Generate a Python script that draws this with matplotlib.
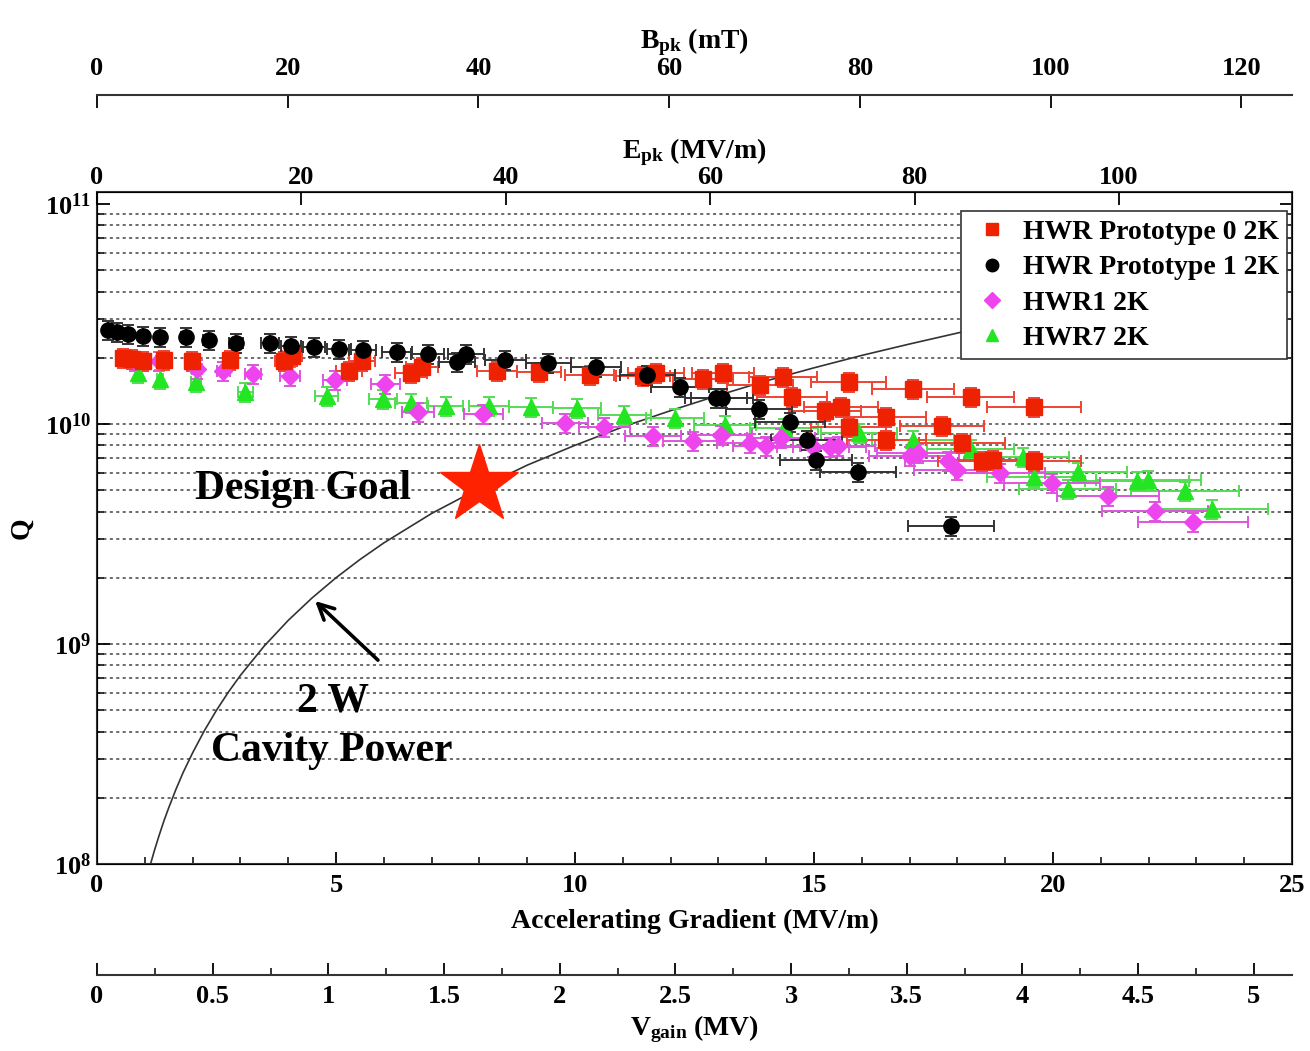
import numpy as np
import matplotlib.pyplot as plt
from matplotlib.lines import Line2D
from matplotlib.ticker import MultipleLocator, LogLocator, NullFormatter

plt.rcParams['font.family'] = ['Liberation Serif', 'DejaVu Serif']
plt.rcParams['font.weight'] = 'bold'
plt.rcParams['axes.labelweight'] = 'bold'
plt.rcParams['mathtext.fontset'] = 'custom'
plt.rcParams['mathtext.rm'] = 'Liberation Serif:bold'
plt.rcParams['mathtext.it'] = 'Liberation Serif:bold'
plt.rcParams['mathtext.bf'] = 'Liberation Serif:bold'

# --- datos (Eacc en MV/m, Q) ---
e_proto0 = [0.54, 0.73, 0.96, 1.40, 1.99, 2.78, 3.91, 4.08, 5.27, 5.54, 6.57, 6.80,
            8.37, 9.25, 10.31, 11.42, 11.69, 12.68, 13.10, 13.87, 14.35, 14.54, 15.23,
            15.56, 15.73, 15.73, 16.51, 16.51, 17.07, 17.68, 18.10, 18.28, 18.51, 18.74,
            19.60, 19.60]
q_proto0 = [2.00e10, 1.97e10, 1.93e10, 1.95e10, 1.93e10, 1.95e10, 1.93e10, 2.04e10,
            1.74e10, 1.93e10, 1.71e10, 1.82e10, 1.74e10, 1.72e10, 1.67e10, 1.65e10,
            1.71e10, 1.60e10, 1.71e10, 1.50e10, 1.64e10, 1.33e10, 1.15e10, 1.19e10,
            9.69e9, 1.55e10, 1.08e10, 8.46e9, 1.44e10, 9.79e9, 8.2e9, 1.33e10, 6.79e9,
            6.86e9, 1.19e10, 6.79e9]

e_proto1 = [0.23, 0.42, 0.65, 0.96, 1.32, 1.86, 2.34, 2.91, 3.62, 4.06, 4.54, 5.06,
            5.56, 6.28, 6.92, 7.53, 7.72, 8.54, 9.44, 10.44, 11.51, 12.20, 12.95, 13.08,
            13.85, 14.50, 14.85, 15.04, 15.92, 17.87]
q_proto1 = [2.67e10, 2.62e10, 2.57e10, 2.51e10, 2.48e10, 2.48e10, 2.41e10, 2.33e10,
            2.33e10, 2.26e10, 2.24e10, 2.19e10, 2.17e10, 2.12e10, 2.08e10, 1.91e10,
            2.08e10, 1.95e10, 1.89e10, 1.82e10, 1.67e10, 1.47e10, 1.31e10, 1.31e10,
            1.17e10, 1.02e10, 8.46e9, 6.86e9, 6.05e9, 3.44e9]

e_hwr1 = [0.79, 1.30, 2.09, 2.64, 3.26, 4.04, 4.98, 6.03, 6.72, 8.08, 9.79, 10.61,
          11.63, 12.47, 13.05, 13.66, 14.00, 14.31, 14.98, 15.33, 15.50, 17.01, 17.18,
          17.80, 17.99, 18.89, 19.98, 21.15, 22.13, 22.93]
q_hwr1 = [1.93e10, 1.93e10, 1.78e10, 1.74e10, 1.69e10, 1.65e10, 1.58e10, 1.52e10,
          1.13e10, 1.11e10, 1.01e10, 9.69e9, 8.82e9, 8.37e9, 8.91e9, 8.2e9, 7.94e9,
          8.64e9, 7.86e9, 7.86e9, 7.94e9, 7.16e9, 7.38e9, 6.79e9, 6.18e9, 5.99e9,
          5.39e9, 4.71e9, 4.02e9, 3.59e9]

e_hwr7 = [0.86, 1.32, 2.07, 3.10, 4.81, 5.98, 6.57, 7.30, 8.20, 9.08, 10.04, 11.03,
          12.09, 13.14, 14.37, 15.94, 17.07, 18.28, 19.37, 19.60, 20.31, 20.52, 21.76,
          21.99, 22.76, 23.33]
q_hwr7 = [1.71e10, 1.60e10, 1.55e10, 1.40e10, 1.34e10, 1.30e10, 1.25e10, 1.21e10,
          1.21e10, 1.19e10, 1.18e10, 1.10e10, 1.06e10, 9.9e9, 9.59e9, 9.1e9, 8.46e9,
          7.69e9, 7.08e9, 5.74e9, 5.07e9, 6.05e9, 5.51e9, 5.56e9, 4.96e9, 4.11e9]

# incertidumbre relativa aproximada (leida de las barras)
xerr_rel = 0.05
yerr_rel = 0.10

# curva de 2 W de potencia en la cavidad
e_2w = [1.12, 1.2, 1.3, 1.4, 1.5, 1.65, 1.8, 2.0, 2.25, 2.5, 2.75, 3.0, 3.5, 4.0, 4.5,
        5.0, 5.5, 6.0, 7.0, 8.0, 9.0, 10.0, 11.0, 12.0, 13.0, 14.0, 15.0, 16.0, 17.0,
        18.2, 20.0]
q_2w = [1.0e8, 1.15e8, 1.35e8, 1.57e8, 1.8e8, 2.18e8, 2.6e8, 3.2e8, 4.05e8, 5.0e8,
        6.05e8, 7.2e8, 9.8e8, 1.28e9, 1.62e9, 2.0e9, 2.42e9, 2.88e9, 3.92e9, 5.1e9,
        6.5e9, 8.0e9, 9.7e9, 1.15e10, 1.35e10, 1.57e10, 1.8e10, 2.05e10, 2.31e10,
        2.65e10, 3.2e10]

design_goal_e = 8.0
design_goal_q = 5.3e9

# ejes secundarios: factores de conversion desde Eacc
epk_por_eacc = 4.677
bpk_por_eacc = 5.013
vgain_por_eacc = 0.2066
eacc_max = 25

series = [
    ('HWR7 2K', e_hwr7, q_hwr7, '^', '#22e622', '#55dd55'),
    ('HWR1 2K', e_hwr1, q_hwr1, 'D', '#ee44ee', '#dd55dd'),
    ('HWR Prototype 0 2K', e_proto0, q_proto0, 's', '#ee2200', '#ee4433'),
    ('HWR Prototype 1 2K', e_proto1, q_proto1, 'o', 'black', '#333333'),
]
legend_order = ['HWR Prototype 0 2K', 'HWR Prototype 1 2K', 'HWR1 2K', 'HWR7 2K']

W, H = 1310, 1051
fig = plt.figure(figsize=(W / 100, H / 100), dpi=100)
ax = fig.add_axes([97 / W, 1 - 864 / H, 1195 / W, 672 / H])

ax.set_yscale('log')
ax.set_xlim(0, eacc_max)
ax.set_ylim(1e8, 10 ** 11.0545)

# grid punteado en cada decada
for dec in [1e8, 1e9, 1e10]:
    for m in range(1, 10):
        if dec * m > 1e8:
            ax.axhline(dec * m, color='#444444', lw=1.1, ls=(0, (2, 2.2)), zorder=0)

ax.plot(e_2w, q_2w, color='#333333', lw=1.2, zorder=2)

handles = {}
for nombre, e, q, mk, col, ecol in series:
    e = np.array(e)
    q = np.array(q)
    ax.errorbar(e, q, xerr=e * xerr_rel, yerr=q * yerr_rel, fmt=mk, ms=11 if mk != 'D' else 9,
                color=col, mec=col, ecolor=ecol, elinewidth=1.4, capsize=4, capthick=1.4,
                zorder=3)
    handles[nombre] = Line2D([], [], ls='none', marker=mk, color=col, ms=9 if mk != 'D' else 8)

ax.plot(design_goal_e, design_goal_q, marker='*', ms=59, color='#ff2200', mec='#ff2200',
        zorder=5, ls='none')

ax.text(4.31, 5.07e9, 'Design Goal', fontsize=30, ha='center', va='center', zorder=6)
ax.text(4.94, 5.5e8, '2 W', fontsize=30, ha='center', va='center')
ax.text(4.92, 3.27e8, 'Cavity Power', fontsize=30, ha='center', va='center')
ax.annotate('', xy=(4.52, 1.6e9), xytext=(5.92, 8.28e8),
            arrowprops=dict(arrowstyle='->', lw=2.6, color='black', mutation_scale=28))

leg = ax.legend([handles[n] for n in legend_order], legend_order, loc='upper right',
                bbox_to_anchor=(0.9958, 0.9717), borderaxespad=0, fontsize=20,
                frameon=True, fancybox=False, edgecolor='#333333', framealpha=1,
                handletextpad=0.3, labelspacing=0.36, borderpad=0.3, handlelength=1.6)
leg.get_frame().set_linewidth(1.2)
leg.set_zorder(10)

# ticks eje principal
ax.xaxis.set_major_locator(MultipleLocator(5))
ax.xaxis.set_minor_locator(MultipleLocator(1))
ax.set_yticks([1e8, 1e9, 1e10, 1e11])
ax.set_yticklabels([r'$10^{8}$', r'$10^{9}$', r'$10^{10}$', r'$10^{11}$'])
ax.yaxis.set_minor_locator(LogLocator(base=10, subs=np.arange(2, 10)))
ax.yaxis.set_minor_formatter(NullFormatter())
ax.tick_params(axis='both', which='major', direction='in', length=9, width=1.3,
               labelsize=19, right=True, top=False)
ax.tick_params(axis='both', which='minor', direction='in', length=5, width=1.1,
               right=True, top=False)
ax.tick_params(axis='x', pad=7)
ax.tick_params(axis='y', pad=4)
ax.set_xlabel('Accelerating Gradient (MV/m)', fontsize=20, labelpad=9)
ax.set_ylabel('Q', fontsize=20, labelpad=8)
for s in ax.spines.values():
    s.set_linewidth(1.5)
    s.set_color('#333333')

# eje superior Epk
ax_e = ax.twiny()
ax_e.set_xlim(0, eacc_max * epk_por_eacc)
ax_e.xaxis.set_major_locator(MultipleLocator(20))
ax_e.tick_params(axis='x', direction='in', length=9, width=1.3, labelsize=19, pad=2)
ax_e.set_xlabel(r'E$_{\mathrm{pk}}$ (MV/m)', fontsize=20, labelpad=6)

# eje Bpk
ax_b = fig.add_axes([97 / W, 1 - 95 / H - 0.001, 1195 / W, 0.001])
ax_b.set_xlim(0, eacc_max * bpk_por_eacc)
ax_b.patch.set_visible(False)
for k in ['left', 'right', 'bottom']:
    ax_b.spines[k].set_visible(False)
ax_b.spines['top'].set_linewidth(1.5)
ax_b.spines['top'].set_color('#333333')
ax_b.set_yticks([])
ax_b.xaxis.set_ticks_position('top')
ax_b.xaxis.set_label_position('top')
ax_b.xaxis.set_major_locator(MultipleLocator(20))
ax_b.tick_params(axis='x', direction='in', length=9, width=1.3, labelsize=19, pad=11)
ax_b.set_xlabel(r'B$_{\mathrm{pk}}$ (mT)', fontsize=20, labelpad=6)

# eje Vgain
ax_v = fig.add_axes([97 / W, 1 - 975 / H, 1195 / W, 0.001])
ax_v.set_xlim(0, eacc_max * vgain_por_eacc)
ax_v.patch.set_visible(False)
for k in ['left', 'right', 'top']:
    ax_v.spines[k].set_visible(False)
ax_v.spines['bottom'].set_linewidth(1.5)
ax_v.spines['bottom'].set_color('#333333')
ax_v.set_yticks([])
ax_v.xaxis.set_minor_locator(MultipleLocator(0.25))
ax_v.set_xticks([0, 0.5, 1, 1.5, 2, 2.5, 3, 3.5, 4, 4.5, 5])
ax_v.set_xticklabels(['0', '0.5', '1', '1.5', '2', '2.5', '3', '3.5', '4', '4.5', '5'])
ax_v.tick_params(axis='x', which='major', direction='in', length=9, width=1.3,
                 labelsize=19, pad=7)
ax_v.tick_params(axis='x', which='minor', direction='in', length=5, width=1.1)
ax_v.set_xlabel(r'V$_{\mathrm{gain}}$ (MV)', fontsize=20, labelpad=4)

fig.savefig('out.png', dpi=100)
